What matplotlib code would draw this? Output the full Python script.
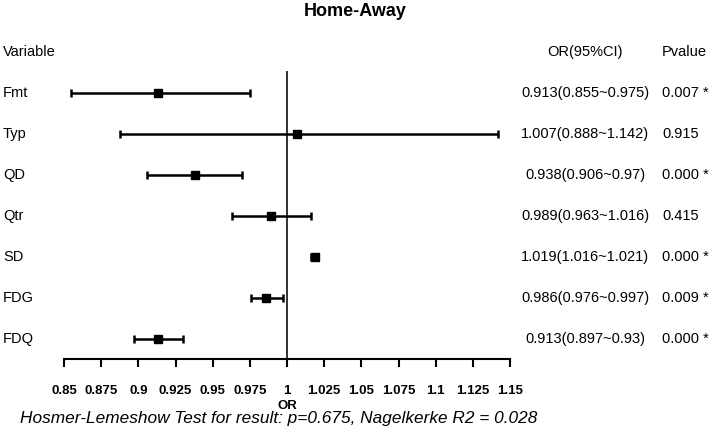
import matplotlib
matplotlib.use("Agg")
import matplotlib.pyplot as plt
import matplotlib.transforms as mtransforms

variables = ["Fmt", "Typ", "QD", "Qtr", "SD", "FDG", "FDQ"]
odds = [0.913, 1.007, 0.938, 0.989, 1.019, 0.986, 0.913]
lower = [0.855, 0.888, 0.906, 0.963, 1.016, 0.976, 0.897]
upper = [0.975, 1.142, 0.970, 1.016, 1.021, 0.997, 0.930]
or_text = ["0.913(0.855~0.975)", "1.007(0.888~1.142)", "0.938(0.906~0.97)",
           "0.989(0.963~1.016)", "1.019(1.016~1.021)", "0.986(0.976~0.997)",
           "0.913(0.897~0.93)"]
pvalues = ["0.007 *", "0.915", "0.000 *", "0.415", "0.000 *", "0.009 *", "0.000 *"]
xticks = [0.85, 0.875, 0.9, 0.925, 0.95, 0.975, 1, 1.025, 1.05, 1.075, 1.1, 1.125, 1.15]
xtick_labels = ["0.85", "0.875", "0.9", "0.925", "0.95", "0.975", "1", "1.025",
                "1.05", "1.075", "1.1", "1.125", "1.15"]

plt.rcParams['font.family'] = ['Liberation Sans', 'DejaVu Sans']

W, H = 711, 429
fig = plt.figure(figsize=(W / 100, H / 100), dpi=100)
ax = fig.add_axes([64 / W, 1 - 359 / H, (510 - 64) / W, (359 - 52) / H])

rows = list(range(len(variables)))
ax.set_xlim(0.85, 1.15)
ax.set_ylim(6.49, -1)

# reference line at OR = 1
ax.vlines(1, -0.54, 6.49, color="#222222", lw=1.3)

for i in rows:
    ax.errorbar(odds[i], i, xerr=[[odds[i] - lower[i]], [upper[i] - odds[i]]],
                fmt="none", ecolor="black", elinewidth=1.8,
                capsize=3, capthick=1.8, zorder=2)
ax.plot(odds, rows, "s", color="black", ms=6.3, zorder=3)

for s in ["top", "right", "left"]:
    ax.spines[s].set_visible(False)
ax.spines["bottom"].set_linewidth(1.5)
ax.set_yticks([])
ax.set_xticks(xticks)
ax.set_xticklabels(xtick_labels, fontsize=9.5, fontweight="bold")
ax.tick_params(axis="x", length=5.8, width=1.5, pad=13)
ax.set_xlabel("OR", fontsize=9.5, fontweight="bold", labelpad=2)

tr = mtransforms.blended_transform_factory(fig.transFigure, ax.transData)
fs = 10.5
ax.text(3 / W, -1, "Variable", transform=tr, fontsize=fs, ha="left", va="center")
ax.text(585 / W, -1, "OR(95%CI)", transform=tr, fontsize=fs, ha="center", va="center")
ax.text(662 / W, -1, "Pvalue", transform=tr, fontsize=fs, ha="left", va="center")
for i in rows:
    ax.text(3 / W, i, variables[i], transform=tr, fontsize=fs, ha="left", va="center")
    ax.text(585 / W, i, or_text[i], transform=tr, fontsize=fs, ha="center", va="center")
    ax.text(662 / W, i, pvalues[i], transform=tr, fontsize=fs, ha="left", va="center")

fig.text(355 / W, 1 - 12 / H, "Home-Away", fontsize=13, fontweight="bold",
         ha="center", va="center")
fig.text(20 / W, 1 - 418 / H, "Hosmer-Lemeshow Test for result: p=0.675, Nagelkerke R2 = 0.028",
         fontsize=12.4, fontstyle="italic", ha="left", va="center")

fig.savefig("out.png", dpi=100)
